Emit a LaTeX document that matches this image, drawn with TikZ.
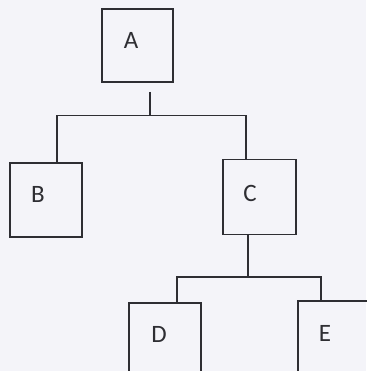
\documentclass[tikz,border=0pt]{standalone}
\usepackage{fontspec}
\setmainfont{Carlito}
\definecolor{bg}{HTML}{F4F4F9}
\definecolor{ink}{HTML}{2E2E33}
\begin{document}
\begin{tikzpicture}[x=1pt,y=-1pt,
  box/.style={draw=ink, line width=1.4pt, rectangle, inner sep=0pt},
  lbl/.style={text=ink, font=\fontsize{25}{28}\selectfont},
  conn/.style={draw=ink, line width=1.4pt}]
\fill[bg] (0,0) rectangle (366,371);
\useasboundingbox (0,0) rectangle (366,371);
\node[box, minimum width=71pt, minimum height=73pt, label={[lbl,xshift=-6.5pt,yshift=5.5pt]center:A}] (A) at (137.5,45.5) {};
\node[box, minimum width=72pt, minimum height=74pt, label={[lbl,xshift=-8pt,yshift=6pt]center:B}] (B) at (46,200) {};
\node[box, minimum width=73pt, minimum height=75pt, label={[lbl,xshift=-9.5pt,yshift=4pt]center:C}] (C) at (259.5,197) {};
\node[box, minimum width=72pt, minimum height=74pt, label={[lbl,xshift=-6pt,yshift=6pt]center:D}] (D) at (165,340) {};
\node[box, minimum width=72pt, minimum height=74pt, label={[lbl,xshift=-9pt,yshift=5pt]center:E}] (E) at (334,338) {};
\coordinate (tA) at (150,92);
\coordinate (jA) at (150,115.5);
\coordinate (jC) at (248,277);
\draw[conn] (tA) -- (jA);
\draw[conn] ([xshift=11pt]B.north) |- (jA) -| ([xshift=-13.5pt]C.north);
\draw[conn] ([xshift=-11.5pt]C.south) -- (jC);
\draw[conn] ([xshift=12pt]D.north) |- (jC) -| ([xshift=-13pt]E.north);
\end{tikzpicture}
\end{document}
